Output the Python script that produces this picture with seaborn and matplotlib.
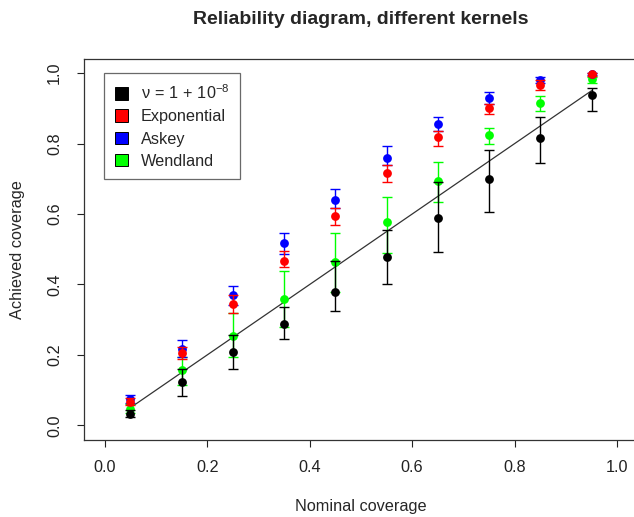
import numpy as np
import pandas as pd
import seaborn as sns
import matplotlib.pyplot as plt
from matplotlib.patches import Patch

# reliability diagram: achieved vs nominal coverage for four kernels
nominal = [0.05, 0.15, 0.25, 0.35, 0.45, 0.55, 0.65, 0.75, 0.85, 0.95]

nu_mean = [0.032, 0.123, 0.207, 0.287, 0.378, 0.477, 0.589, 0.698, 0.816, 0.937]
nu_lo = [0.024, 0.084, 0.161, 0.245, 0.325, 0.401, 0.491, 0.605, 0.746, 0.892]
nu_hi = [0.045, 0.160, 0.258, 0.335, 0.468, 0.555, 0.690, 0.783, 0.875, 0.957]

exp_mean = [0.066, 0.205, 0.344, 0.467, 0.594, 0.715, 0.819, 0.902, 0.967, 0.997]
exp_lo = [0.057, 0.189, 0.318, 0.449, 0.569, 0.690, 0.793, 0.883, 0.953, 0.992]
exp_hi = [0.077, 0.222, 0.370, 0.496, 0.616, 0.738, 0.835, 0.913, 0.980, 1.000]

askey_mean = [0.074, 0.218, 0.370, 0.517, 0.641, 0.759, 0.855, 0.929, 0.981, 0.998]
askey_lo = [0.064, 0.195, 0.342, 0.487, 0.616, 0.738, 0.835, 0.912, 0.971, 0.994]
askey_hi = [0.085, 0.243, 0.397, 0.547, 0.672, 0.792, 0.875, 0.946, 0.990, 1.000]

wend_mean = [0.047, 0.156, 0.254, 0.359, 0.463, 0.578, 0.694, 0.824, 0.915, 0.982]
wend_lo = [0.036, 0.115, 0.195, 0.278, 0.380, 0.488, 0.635, 0.800, 0.893, 0.972]
wend_hi = [0.060, 0.195, 0.318, 0.439, 0.545, 0.647, 0.748, 0.844, 0.935, 0.990]

kernels = [r"$\nu\,=\,1\,+\,10^{-8}$", "Exponential", "Askey", "Wendland"]
colors = ["black", "#FF0000", "#0000FF", "#00FF00"]
ticks = [0.0, 0.2, 0.4, 0.6, 0.8, 1.0]

sns.set_style("white")
plt.rcParams['font.family'] = ['Liberation Sans', 'DejaVu Sans']
plt.rcParams['mathtext.fontset'] = 'custom'
plt.rcParams['mathtext.rm'] = 'Liberation Sans'
plt.rcParams['mathtext.it'] = 'Liberation Sans'
plt.rcParams['mathtext.default'] = 'regular'

# long table, one block per kernel
frames = []
for name, m, lo, hi in zip(kernels,
                           [nu_mean, exp_mean, askey_mean, wend_mean],
                           [nu_lo, exp_lo, askey_lo, wend_lo],
                           [nu_hi, exp_hi, askey_hi, wend_hi]):
    frames.append(pd.DataFrame({"nominal": nominal, "achieved": m,
                                "lo": lo, "hi": hi, "kernel": name}))
df = pd.concat(frames, ignore_index=True)
pal = dict(zip(kernels, colors))

fig = plt.figure(figsize=(6.34, 5.17), dpi=100)
ax = fig.add_axes([0.1328, 0.1499, 0.873, 0.736])

# diagonal reference
sns.lineplot(x=nominal, y=nominal, color="#333333", lw=0.9, ax=ax, zorder=1)

# draw order: green, black, blue, red
z = 2
for name in [kernels[3], kernels[0], kernels[2], kernels[1]]:
    sub = df[df.kernel == name]
    ax.errorbar(sub.nominal, sub.achieved,
                yerr=[sub.achieved - sub.lo, sub.hi - sub.achieved],
                fmt='none', ecolor=pal[name], elinewidth=1.0,
                capsize=3.9, capthick=1.0, zorder=z)
    sns.scatterplot(data=sub, x="nominal", y="achieved", color=pal[name],
                    s=40, linewidth=0, ax=ax, zorder=z + 1, legend=False)
    z += 2

ax.set_xlim(-0.04, 1.04)
ax.set_ylim(-0.04, 1.04)
ax.set_xticks(ticks)
ax.set_yticks(ticks)
ax.set_xticklabels([f"{t:.1f}" for t in ticks])
ax.set_yticklabels([f"{t:.1f}" for t in ticks])
ax.tick_params(axis='both', direction='out', length=5, width=0.8,
               labelsize=11.7, colors='#222222', bottom=True, left=True)
ax.tick_params(axis='x', pad=10)
ax.tick_params(axis='y', pad=11, labelrotation=90)
plt.setp(ax.get_yticklabels(), va='center')
for sp in ax.spines.values():
    sp.set_color('#333333')
    sp.set_linewidth(0.9)
ax.spines['right'].set_visible(False)

ax.set_xlabel("Nominal coverage", fontsize=11.7, va='center')
ax.xaxis.set_label_coords(0.5, -0.177)
ax.set_ylabel("Achieved coverage", fontsize=11.7, va='center')
ax.yaxis.set_label_coords(-0.121, 0.5)
ax.set_title("Reliability diagram, different kernels", fontsize=14,
             fontweight='bold', y=1.103, pad=0, va='center')

handles = [Patch(facecolor=c, edgecolor='black', linewidth=0.7) for c in colors]
leg = ax.legend(handles, kernels, loc='upper left',
                bbox_to_anchor=(0.0358, 0.964), borderaxespad=0,
                fontsize=11.7, frameon=True, fancybox=False,
                handlelength=0.8, handleheight=0.8, handletextpad=0.8,
                labelspacing=0.45, borderpad=0.65)
leg.get_frame().set_edgecolor('#444444')
leg.get_frame().set_linewidth(0.9)

fig.savefig("out.png", dpi=100)
